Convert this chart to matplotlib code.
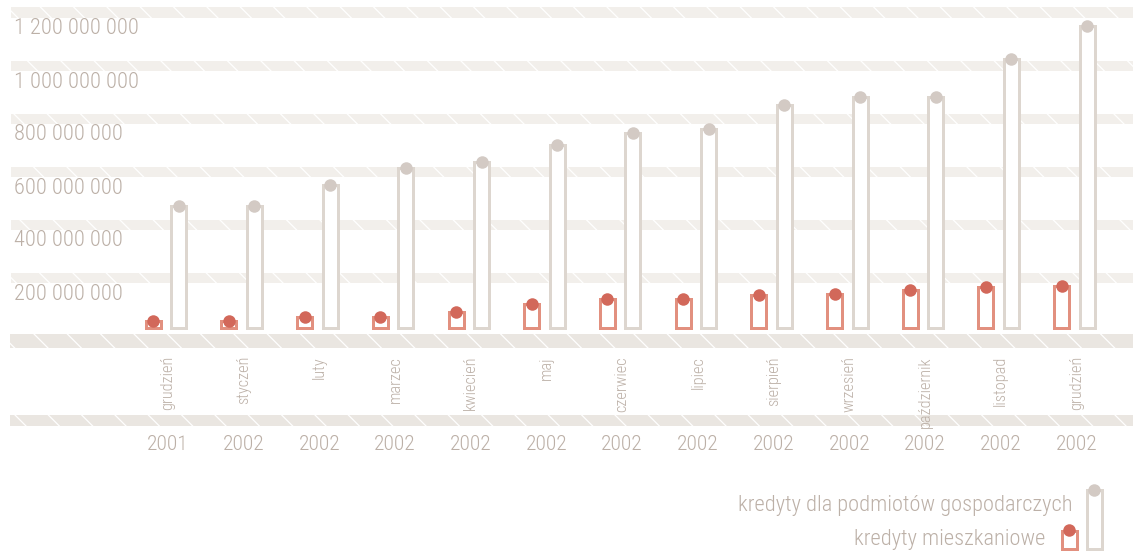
import matplotlib
matplotlib.use("Agg")
import matplotlib.pyplot as plt
from matplotlib import font_manager, transforms
from matplotlib.patches import Rectangle

# --- data (values in millions of PLN) ---
months = ["grudzień", "styczeń", "luty", "marzec", "kwiecień", "maj", "czerwiec",
          "lipiec", "sierpień", "wrzesień", "październik", "listopad", "grudzień"]
years = ["2001", "2002", "2002", "2002", "2002", "2002", "2002",
         "2002", "2002", "2002", "2002", "2002", "2002"]
kredyty_gospodarcze = [460, 460, 540, 605, 625, 690, 735, 750, 840, 870, 870, 1015, 1140]
kredyty_mieszkaniowe = [28, 28, 43, 43, 62, 92, 111, 108, 126, 130, 145, 153, 160]
y_ticks = [200, 400, 600, 800, 1000, 1200]
y_tick_labels = ["200 000 000", "400 000 000", "600 000 000", "800 000 000",
                 "1 000 000 000", "1 200 000 000"]
legend_labels = ["kredyty dla podmiotów gospodarczych", "kredyty mieszkaniowe"]

# --- style ---
W, H, DPI = 1133, 552, 100
TEXT = "#bcb0a7"
GRAY_EDGE = "#ddd6cf"
GRAY_DOT = "#d3cac4"
RED_EDGE = "#e2907f"
RED_DOT = "#d2685a"
BAND = "#f2efeb"
BAND_DARK = "#eae6e1"

available = {f.name for f in font_manager.fontManager.ttflist}
FONT = next(f for f in ["Roboto Condensed", "Archivo Narrow", "Sofia Sans Condensed",
                        "Asap Condensed", "Liberation Sans Narrow", "Liberation Sans",
                        "DejaVu Sans"] if f in available)
plt.rcParams["font.family"] = [FONT, "DejaVu Sans"]
plt.rcParams["hatch.linewidth"] = 0.9

fig = plt.figure(figsize=(W / DPI, H / DPI), dpi=DPI)
fig.patch.set_facecolor("white")
ax = fig.add_axes([0, 0, 1, 1])
ax.axis("off")
renderer = fig.canvas.get_renderer()


def fit_size(text, width_px, cap_px, weight="light"):
    """Font size balancing a target text width and a target cap height."""
    t = fig.text(0, 0, text, fontsize=20, fontweight=weight)
    w = t.get_window_extent(renderer).width
    t.remove()
    by_width = 20 * width_px / w
    by_height = cap_px / 0.711 * 72 / DPI
    return 0.5 * (by_width + by_height)


# pixel geometry of the plotting area
step_px = 75.7          # distance between months
center0_px = 166.0      # x of first month
zero_px = 328.0         # y (from top) of value 0
px_per_m = 0.265        # pixels per million
ax.set_xlim(-center0_px / step_px, (W - center0_px) / step_px)
ax.set_ylim((zero_px - H) / px_per_m, zero_px / px_per_m)


def px(n):
    return n / step_px


def py(n):
    return n / px_per_m


bar_w = px(15)
offset = px(12.75)
lw = 3 * 72 / DPI

# textured grid bands
for v in y_ticks:
    ax.axhspan(v - py(8), v + py(2.5), xmin=11 / W, xmax=1, facecolor=BAND,
               edgecolor="white", linewidth=0, hatch="\\", zorder=0)
ax.axhspan(-py(20), -py(6), xmin=10 / W, xmax=1, facecolor=BAND_DARK,
           edgecolor="white", linewidth=0, hatch="\\", zorder=0)
ax.axhspan(-py(98), -py(87), xmin=10 / W, xmax=1, facecolor=BAND_DARK,
           edgecolor="white", linewidth=0, hatch="\\", zorder=0)

# bars with dots on top
for i, (g, m) in enumerate(zip(kredyty_gospodarcze, kredyty_mieszkaniowe)):
    ax.add_patch(Rectangle((i - offset - bar_w / 2, 0), bar_w, m, facecolor="white",
                           edgecolor=RED_EDGE, linewidth=lw, zorder=2))
    ax.add_patch(Rectangle((i + offset - bar_w / 2, 0), bar_w, g, facecolor="white",
                           edgecolor=GRAY_EDGE, linewidth=lw, zorder=2))
ax.plot([i - offset for i in range(len(months))], kredyty_mieszkaniowe, "o",
        color=RED_DOT, ms=9, mew=0, zorder=3)
ax.plot([i + offset for i in range(len(months))], kredyty_gospodarcze, "o",
        color=GRAY_DOT, ms=9, mew=0, zorder=3)

# y tick labels under each band
tick_fs = fit_size("1 200 000 000", 116, 17)
lab_tr = transforms.offset_copy(ax.transData, fig=fig, x=0, y=-19, units="dots")
x_lab = ax.get_xlim()[0] + px(14)
for v, s in zip(y_ticks, y_tick_labels):
    ax.text(x_lab, v, s, transform=lab_tr, ha="left", va="center",
            fontsize=tick_fs, fontweight="light", color=TEXT)

# month and year labels
month_fs = fit_size("październik", 64, 12.8)
year_fs = fit_size("2001", 37, 17)
mon_tr = transforms.offset_copy(ax.transData, fig=fig, x=2, y=-28, units="dots")
yr_tr = transforms.offset_copy(ax.transData, fig=fig, x=2, y=-116, units="dots")
for i, (mname, yr) in enumerate(zip(months, years)):
    ax.text(i, 0, mname, transform=mon_tr, rotation=90, ha="center", va="top",
            fontsize=month_fs, fontweight="light", color=TEXT)
    ax.text(i, 0, yr, transform=yr_tr, ha="center", va="center",
            fontsize=year_fs, fontweight="light", color=TEXT)


# legend
def fx(x):
    return x / W


def fy(y):
    return 1 - y / H


legend_fs = fit_size(legend_labels[0], 310, 17)
fig.text(fx(1072), fy(505), legend_labels[0], ha="right", va="center",
         fontsize=legend_fs, fontweight="light", color=TEXT)
fig.text(fx(1045), fy(540), legend_labels[1], ha="right", va="center",
         fontsize=legend_fs, fontweight="light", color=TEXT)
fig.add_artist(Rectangle((fx(1061.5), fy(548.5)), fx(15), 1 - fy(18),
                         transform=fig.transFigure, facecolor="white",
                         edgecolor=RED_EDGE, linewidth=lw, zorder=2))
fig.add_artist(Rectangle((fx(1086.5), fy(548.5)), fx(15), 1 - fy(58.5),
                         transform=fig.transFigure, facecolor="white",
                         edgecolor=GRAY_EDGE, linewidth=lw, zorder=2))
fig.add_artist(plt.Line2D([fx(1069)], [fy(530)], marker="o", ms=9, mew=0,
                          color=RED_DOT, transform=fig.transFigure, zorder=3))
fig.add_artist(plt.Line2D([fx(1094)], [fy(490)], marker="o", ms=9, mew=0,
                          color=GRAY_DOT, transform=fig.transFigure, zorder=3))

fig.savefig("out.png", dpi=DPI, facecolor="white")
